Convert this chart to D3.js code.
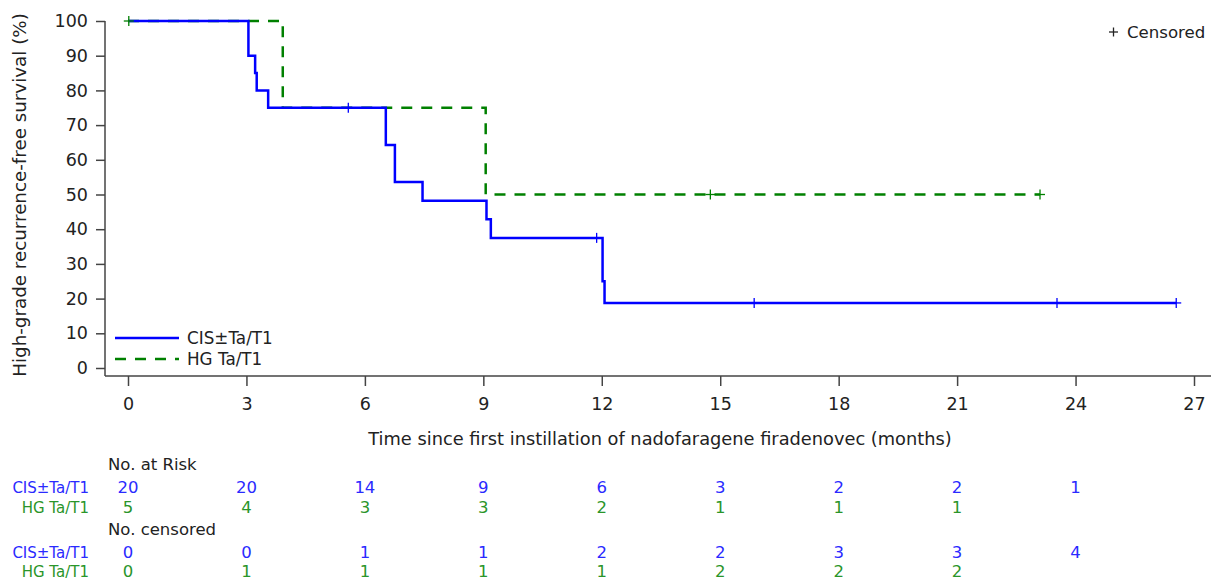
<!DOCTYPE html>
<html><head><meta charset="utf-8">
<script src="https://cdn.jsdelivr.net/npm/d3@7"></script>
<style>
body{margin:0;background:#fff;}
text{font-family:"DejaVu Sans",Verdana,sans-serif;}
</style></head><body>
<svg id="c" width="1211" height="580"></svg>
<script>
// ---- data ----
const cisTime = [0, 3.05, 3.22, 3.26, 3.55, 6.53, 6.76, 7.46, 9.08, 9.19, 12.02, 12.07, 26.55];
const cisSurv = [100, 90, 85, 80, 75, 64.3, 53.6, 48.2, 42.9, 37.5, 25, 18.75, 18.75];
const cisCensorTime = [5.58, 11.87, 15.86, 23.53, 26.55];
const cisCensorSurv = [75, 37.5, 18.75, 18.75, 18.75];
const hgTime = [0, 3.92, 9.06, 23.1];
const hgSurv = [100, 75, 50, 50];
const hgCensorTime = [0.02, 14.75, 23.1];
const hgCensorSurv = [100, 50, 50];
const xTicks = [0, 3, 6, 9, 12, 15, 18, 21, 24, 27];
const yTicks = [0, 10, 20, 30, 40, 50, 60, 70, 80, 90, 100];
const tableTimes = [0, 3, 6, 9, 12, 15, 18, 21, 24];
const cisRisk = [20, 20, 14, 9, 6, 3, 2, 2, 1];
const hgRisk = [5, 4, 3, 3, 2, 1, 1, 1];
const cisCens = [0, 0, 1, 1, 2, 2, 3, 3, 4];
const hgCens = [0, 1, 1, 1, 1, 2, 2, 2];
const groupNames = ["CIS\u00B1Ta/T1", "HG Ta/T1"];

const BLUE = "#0000ff", GREEN = "#008000";
const BLUE_T = "#2a2aff", GREEN_T = "#2a952a";

const svg = d3.select("#c");
const x = d3.scaleLinear().domain([0, 27]).range([128, 1194]);
const y = d3.scaleLinear().domain([0, 100]).range([368, 21]);
const axisColor = "#444";

// axes lines
svg.append("line").attr("x1", 105).attr("x2", 105).attr("y1", y(100)).attr("y2", 376)
  .attr("stroke", axisColor).attr("stroke-width", 1.5);
svg.append("line").attr("x1", 105).attr("x2", 1211).attr("y1", 376).attr("y2", 376)
  .attr("stroke", axisColor).attr("stroke-width", 1.5);

// y axis
const ya = svg.append("g").attr("transform", "translate(105,0)")
  .call(d3.axisLeft(y).tickValues(yTicks).tickSize(9).tickPadding(8).tickSizeOuter(0));
ya.select(".domain").remove();
ya.selectAll("line").attr("stroke", axisColor).attr("stroke-width", 1.5);
ya.selectAll("text").attr("font-size", 17.5).attr("fill", "#222").attr("font-family", '"DejaVu Sans",sans-serif');

// x axis
const xa = svg.append("g").attr("transform", "translate(0,376)")
  .call(d3.axisBottom(x).tickValues(xTicks).tickSize(10).tickPadding(12).tickSizeOuter(0));
xa.select(".domain").remove();
xa.selectAll("line").attr("stroke", axisColor).attr("stroke-width", 1.5);
xa.selectAll("text").attr("font-size", 17.5).attr("fill", "#222").attr("font-family", '"DejaVu Sans",sans-serif');

// titles
svg.append("text").attr("x", 660).attr("y", 445).attr("text-anchor", "middle")
  .attr("font-size", 17.8).attr("fill", "#222")
  .text("Time since first instillation of nadofaragene firadenovec (months)");
svg.append("text").attr("transform", "translate(26,195) rotate(-90)").attr("text-anchor", "middle")
  .attr("font-size", 18.3).attr("fill", "#222")
  .text("High-grade recurrence-free survival (%)");

// curves
const line = d3.line().x(d => x(d[0])).y(d => y(d[1])).curve(d3.curveStepAfter);
svg.append("path").datum(hgTime.map((t, i) => [t, hgSurv[i]]))
  .attr("d", line).attr("fill", "none").attr("stroke", GREEN).attr("stroke-width", 2.5)
  .attr("stroke-dasharray", "11,9");
svg.append("path").datum(cisTime.map((t, i) => [t, cisSurv[i]]))
  .attr("d", line).attr("fill", "none").attr("stroke", BLUE).attr("stroke-width", 2.5);

function censor(times, survs, color) {
  const g = svg.append("g").attr("stroke", color).attr("stroke-width", 1.3);
  times.forEach((t, i) => {
    const cx = x(t), cy = y(survs[i]);
    g.append("line").attr("x1", cx - 5).attr("x2", cx + 5).attr("y1", cy).attr("y2", cy);
    g.append("line").attr("x1", cx).attr("x2", cx).attr("y1", cy - 5).attr("y2", cy + 5);
  });
}
censor(cisCensorTime, cisCensorSurv, BLUE);
censor(hgCensorTime, hgCensorSurv, GREEN);

// legend
svg.append("line").attr("x1", 115).attr("x2", 179).attr("y1", 338).attr("y2", 338)
  .attr("stroke", BLUE).attr("stroke-width", 2.5);
svg.append("line").attr("x1", 115).attr("x2", 179).attr("y1", 359).attr("y2", 359)
  .attr("stroke", GREEN).attr("stroke-width", 2.5).attr("stroke-dasharray", "11,9");
svg.append("text").attr("x", 187).attr("y", 344).attr("font-size", 16.8).attr("fill", "#222").text(groupNames[0]);
svg.append("text").attr("x", 187).attr("y", 365).attr("font-size", 16.8).attr("fill", "#222").text(groupNames[1]);

// censored legend
svg.append("line").attr("x1", 1109).attr("x2", 1118).attr("y1", 32).attr("y2", 32).attr("stroke", "#222").attr("stroke-width", 1.3);
svg.append("line").attr("x1", 1113.5).attr("x2", 1113.5).attr("y1", 27.5).attr("y2", 36.5).attr("stroke", "#222").attr("stroke-width", 1.3);
svg.append("text").attr("x", 1127).attr("y", 38).attr("font-size", 16.6).attr("fill", "#222").text("Censored");

// risk table
function row(vals, yy, color) {
  svg.append("g").selectAll("text").data(vals).join("text")
    .attr("x", (d, i) => x(tableTimes[i])).attr("y", yy).attr("text-anchor", "middle")
    .attr("font-size", 16.5).attr("fill", color).text(d => d);
}
function label(txt, yy, color) {
  svg.append("text").attr("x", 89).attr("y", yy).attr("text-anchor", "end")
    .attr("font-size", 15).attr("fill", color).text(txt);
}
svg.append("text").attr("x", 108).attr("y", 470).attr("font-size", 16.5).attr("fill", "#222").text("No. at Risk");
label(groupNames[0], 493, BLUE_T); row(cisRisk, 493, BLUE_T);
label(groupNames[1], 513, GREEN_T); row(hgRisk, 513, GREEN_T);
svg.append("text").attr("x", 108).attr("y", 535).attr("font-size", 16.5).attr("fill", "#222").text("No. censored");
label(groupNames[0], 558, BLUE_T); row(cisCens, 558, BLUE_T);
label(groupNames[1], 577, GREEN_T); row(hgCens, 577, GREEN_T);
</script></body></html>
